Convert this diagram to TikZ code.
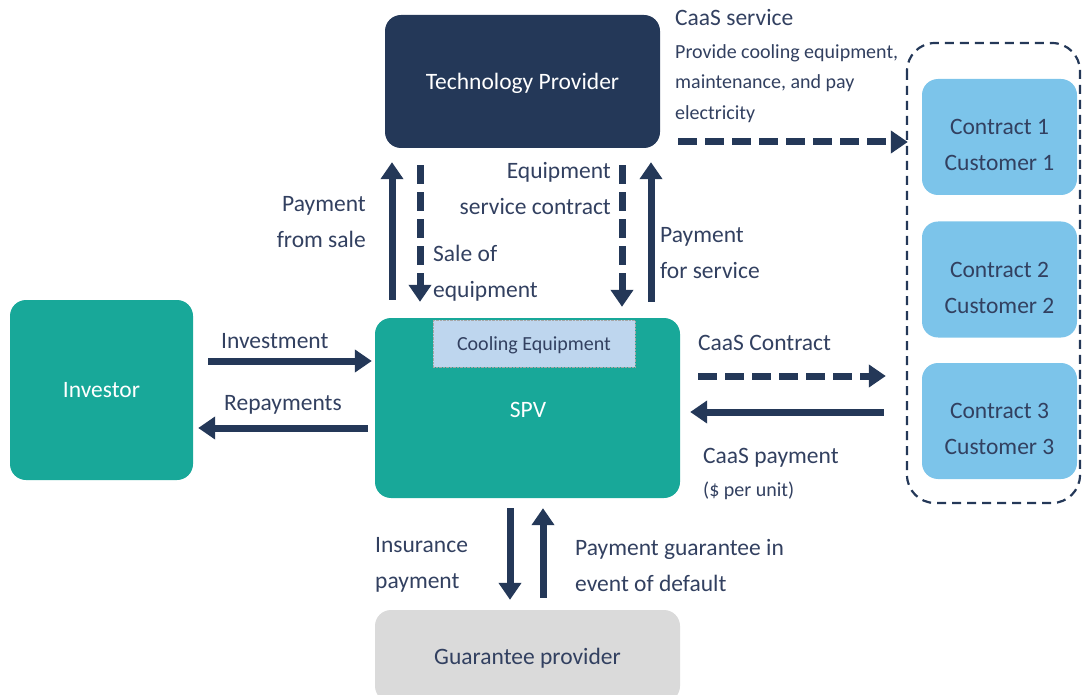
\documentclass[tikz,border=0pt]{standalone}
\usepackage{fontspec}
\setmainfont{Carlito}
\usetikzlibrary{arrows.meta,positioning}

\definecolor{navy}{RGB}{36,56,88}
\definecolor{labeltext}{RGB}{50,64,96}
\definecolor{teal}{RGB}{24,168,153}
\definecolor{skyblue}{RGB}{124,196,234}
\definecolor{paleblue}{RGB}{190,214,238}
\definecolor{lightgrey}{RGB}{218,218,218}

\newcommand{\bigsz}{\fontsize{23.5}{36}\selectfont}
\newcommand{\smallsz}{\fontsize{20}{30.5}\selectfont}

\begin{document}
\begin{tikzpicture}[x=1pt, y=-1pt,
    box/.style={rounded corners=16pt, inner sep=0pt, align=center, font=\bigsz, text depth=0pt},
    custbox/.style={box, fill=skyblue, minimum width=155pt, minimum height=116pt},
    custtext/.style={inner sep=0pt, align=center, text=labeltext, font=\bigsz},
    flow/.style={line width=7pt, navy, -{Triangle[width=22pt,length=17pt]}},
    dflow/.style={flow, dash pattern=on 19pt off 8pt},
    lbl/.style={inner sep=0pt, text=labeltext, font=\bigsz},
    slbl/.style={inner sep=0pt, text=labeltext, font=\smallsz}]
    \useasboundingbox (0,0) rectangle (1082,695);

    % boxes
    \node[box, fill=navy, text=white, minimum width=275pt, minimum height=133pt]
      (tech) at (522.5,81.5) {Technology Provider};
    \node[box, fill=teal, text=white, minimum width=183pt, minimum height=180pt]
      (investor) at (101.5,390) {Investor};
    \node[box, fill=teal, text=white, minimum width=305pt, minimum height=180pt]
      (spv) at (527.5,408) {};
    \node[text=white, font=\bigsz, inner sep=0pt, text depth=0pt] (spvtext) at (528,410) {SPV};
    \node[draw=gray!70, densely dotted, fill=paleblue, text=labeltext, font=\smallsz,
      minimum width=202pt, minimum height=47pt, inner sep=0pt, text depth=0pt]
      (cooling) at (534,343.5) {Cooling Equipment};
    \node[box, fill=lightgrey, text=labeltext, minimum width=305pt, minimum height=92pt]
      (guarantee) at (527.5,656) {Guarantee provider};

    % customers
    \draw[navy, line width=2.2pt, dash pattern=on 9pt off 6pt, rounded corners=28pt]
      (907,43) rectangle (1080,503);
    \node[custbox] (cust1) at (999.5,137) {};
    \node[custbox] (cust2) at (999.5,279.5) {};
    \node[custbox] (cust3) at (999.5,421) {};
    \node[custtext] (cust1text) at ([yshift=-8pt]cust1.center) {Contract 1\\Customer 1};
    \node[custtext] (cust2text) at ([yshift=-8pt]cust2.center) {Contract 2\\Customer 2};
    \node[custtext] (cust3text) at ([yshift=-8pt]cust3.center) {Contract 3\\Customer 3};

    % arrow lanes
    \coordinate (lane1) at (392,0);
    \coordinate (lane2) at (420,0);
    \coordinate (lane3) at (622,0);
    \coordinate (lane4) at (651,0);
    \coordinate (lane5) at (510,0);
    \coordinate (lane6) at (543,0);
    \coordinate (row1) at (0,142);
    \coordinate (row2) at (0,361);
    \coordinate (row3) at (0,428);
    \coordinate (row4) at (0,376);
    \coordinate (row5) at (0,412);

    % tech <-> spv
    \draw[flow, shorten <=18pt, shorten >=14pt] (spv.north -| lane1) -- (tech.south -| lane1);
    \draw[dflow, shorten <=17pt, shorten >=16pt] (tech.south -| lane2) -- (spv.north -| lane2);
    \draw[dflow, shorten <=17pt, shorten >=11pt] (tech.south -| lane3) -- (spv.north -| lane3);
    \draw[flow, shorten <=16pt, shorten >=14pt] (spv.north -| lane4) -- (tech.south -| lane4);

    % tech -> customers
    \draw[dflow, shorten <=18pt, shorten >=14pt] (tech.east |- row1) -- (cust1.west |- row1);

    % investor <-> spv
    \draw[flow, shorten <=15pt, shorten >=3pt] (investor.east |- row2) -- (spv.west |- row2);
    \draw[flow, shorten <=7pt, shorten >=5pt] (spv.west |- row3) -- (investor.east |- row3);

    % spv <-> customers
    \draw[dflow, shorten <=18pt, shorten >=36pt] (spv.east |- row4) -- (cust3.west |- row4);
    \draw[flow, shorten <=38pt, shorten >=10pt] (cust3.west |- row5) -- (spv.east |- row5);

    % spv <-> guarantee
    \draw[flow, shorten <=10pt, shorten >=10pt] (spv.south -| lane5) -- (guarantee.north -| lane5);
    \draw[flow, shorten <=12pt, shorten >=10pt] (guarantee.north -| lane6) -- (spv.south -| lane6);

    % labels
    \node[lbl, anchor=west] (lcaas) at (675,18) {CaaS service};
    \node[slbl, anchor=north west, align=left] (lprovide) at (675,44)
      {Provide cooling equipment,\\maintenance, and pay\\electricity};
    \node[lbl, anchor=east, align=right] (lsale) at (366,222) {Payment\\from sale};
    \node[lbl, anchor=west, align=left] (lequip) at (433,273) {Sale of\\equipment};
    \node[lbl, anchor=east, align=right] (lcontract) at (611,189) {Equipment\\service contract};
    \node[lbl, anchor=west, align=left] (lservice) at (660,253) {Payment\\for service};
    \node[lbl, anchor=west] (linvest) at (221,341) {Investment};
    \node[lbl, anchor=west] (lrepay) at (224,405) {Repayments};
    \node[lbl, anchor=west] (lcaascon) at (698,343) {CaaS Contract};
    \node[lbl, anchor=west] (lcaaspay) at (703,458) {CaaS payment};
    \node[slbl, anchor=west] (lunit) at (703,491) {(\$ per unit)};
    \node[lbl, anchor=west, align=left] (linsure) at (375,565) {Insurance\\payment};
    \node[lbl, anchor=west, align=left] (lguar) at (575,565) {Payment guarantee in\\event of default};
\end{tikzpicture}
\end{document}
